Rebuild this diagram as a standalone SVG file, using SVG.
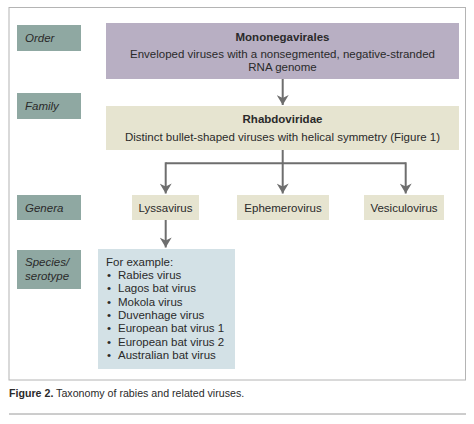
<svg xmlns="http://www.w3.org/2000/svg" width="474" height="424" viewBox="0 0 474 424">
<defs>
<style>
.lab{fill:#8fa8a2}
.lt{font-family:"Liberation Sans",Arial,sans-serif;font-size:11.5px;font-style:italic;fill:#2a2a2a}
.t{font-family:"Liberation Sans",Arial,sans-serif;font-size:11.5px;fill:#2a2a2a}
.b{font-weight:bold}
.c{fill:none;stroke:#6e6e6e;stroke-width:2}
</style>
<marker id="ah" viewBox="0 0 10 12" refX="10" refY="6" markerWidth="5.5" markerHeight="6" orient="auto" markerUnits="strokeWidth">
<path d="M0,0 L10,6 L0,12 L3,6 Z" fill="#6e6e6e"/>
</marker>
</defs>
<rect width="474" height="424" fill="#ffffff"/>
<rect x="9" y="7.5" width="456.5" height="372.5" fill="none" stroke="#b4b4b4" stroke-width="1"/>

<g id="label-order"><rect class="lab" x="17" y="25" width="64" height="26"/><text class="lt" x="25" y="42">Order</text></g>
<g id="label-family"><rect class="lab" x="17" y="93" width="64" height="26"/><text class="lt" x="25" y="110">Family</text></g>
<g id="label-genera"><rect class="lab" x="17" y="195" width="64" height="25"/><text class="lt" x="25" y="212">Genera</text></g>
<g id="label-species"><rect class="lab" x="17" y="250" width="64" height="39"/><text class="lt" x="25" y="266">Species/</text><text class="lt" x="25" y="280">serotype</text></g>

<g id="mononegavirales"><rect x="106" y="23" width="353" height="56" fill="#b8afc3"/>
<text class="t b" x="282.5" y="41" text-anchor="middle">Mononegavirales</text>
<text class="t" x="282.5" y="58" text-anchor="middle">Enveloped viruses with a nonsegmented, negative-stranded</text>
<text class="t" x="282.5" y="71" text-anchor="middle">RNA genome</text></g>

<g id="rhabdoviridae"><rect x="106" y="106" width="353" height="44" fill="#e6e4d0"/>
<text class="t b" x="282.5" y="123" text-anchor="middle">Rhabdoviridae</text>
<text class="t" x="282.5" y="141" text-anchor="middle">Distinct bullet-shaped viruses with helical symmetry (Figure 1)</text></g>

<g id="lyssavirus"><rect x="132" y="195" width="67" height="25" fill="#e6e4d0"/><text class="t" x="165.5" y="212" text-anchor="middle">Lyssavirus</text></g>
<g id="ephemerovirus"><rect x="237" y="195" width="92" height="25" fill="#e6e4d0"/><text class="t" x="283" y="212" text-anchor="middle">Ephemerovirus</text></g>
<g id="vesiculovirus"><rect x="364" y="195" width="80" height="25" fill="#e6e4d0"/><text class="t" x="404" y="212" text-anchor="middle">Vesiculovirus</text></g>

<g id="species"><rect x="98" y="249" width="137" height="120" fill="#d3e1e6"/>
<text class="t" x="106" y="266">For example:</text>
<g class="t">
<text x="107" y="279">•</text><text x="118" y="279">Rabies virus</text>
<text x="107" y="292.3">•</text><text x="118" y="292.3">Lagos bat virus</text>
<text x="107" y="305.6">•</text><text x="118" y="305.6">Mokola virus</text>
<text x="107" y="318.9">•</text><text x="118" y="318.9">Duvenhage virus</text>
<text x="107" y="332.2">•</text><text x="118" y="332.2">European bat virus 1</text>
<text x="107" y="345.5">•</text><text x="118" y="345.5">European bat virus 2</text>
<text x="107" y="358.8">•</text><text x="118" y="358.8">Australian bat virus</text>
</g></g>

<g id="connectors">
<path class="c" d="M282.7,79 V105" marker-end="url(#ah)"/>
<path class="c" d="M282.7,150 V163.3"/>
<path class="c" d="M165.7,163.3 H405.7"/>
<path class="c" d="M165.7,162.3 V193.5" marker-end="url(#ah)"/>
<path class="c" d="M282.7,163.3 V193.5" marker-end="url(#ah)"/>
<path class="c" d="M405.7,162.3 V193.5" marker-end="url(#ah)"/>
<path class="c" d="M165.7,220 V247.5" marker-end="url(#ah)"/>
</g>

<text class="t" x="9" y="397" style="font-size:10.65px"><tspan class="b">Figure 2.</tspan> Taxonomy of rabies and related viruses.</text>
<line x1="9" y1="414" x2="466" y2="414" stroke="#9a9a9a" stroke-width="1"/>
</svg>
